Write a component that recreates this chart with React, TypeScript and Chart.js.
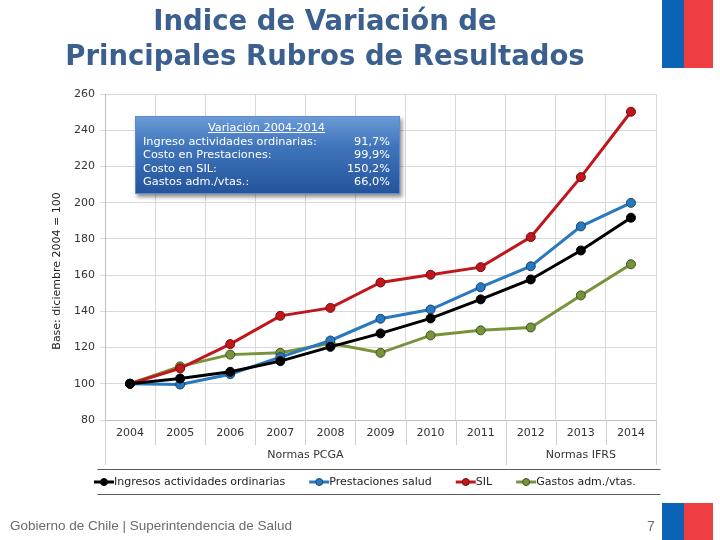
import { useEffect, useRef } from "react";
import { Chart, registerables } from "chart.js";

Chart.register(...registerables);

const years = ["2004", "2005", "2006", "2007", "2008", "2009", "2010", "2011", "2012", "2013", "2014"];
const groupLabels = ["Normas PCGA", "Normas IFRS"];
const groupSizes = [8, 3];

const ingresos = [100, 102.9, 106.6, 112.5, 120.4, 127.8, 136.1, 146.6, 157.6, 173.6, 191.7];
const prestaciones = [100, 99.6, 105.3, 114.7, 123.9, 135.9, 141.0, 153.3, 164.9, 186.9, 199.9];
const sil = [100, 108.5, 121.9, 137.5, 141.9, 155.9, 160.2, 164.4, 181.0, 214.1, 250.2];
const gastos = [100, 109.6, 116.1, 117.1, 122.3, 117.1, 126.7, 129.5, 131.1, 148.8, 166.0];

const seriesNames = ["Ingresos actividades ordinarias", "Prestaciones salud", "SIL", "Gastos adm./vtas."];
const seriesColors = ["#000000", "#2a78bd", "#c0171d", "#77933c"];
const seriesBorders = ["#000000", "#14456e", "#6e0b0e", "#3f5220"];

const yMin = 80;
const yMax = 260;
const yStep = 20;
const yTitle = "Base: diciembre 2004 = 100";

const titleLines = ["Indice de Variación de", "Principales Rubros de Resultados"];
const boxTitle = "Variación 2004-2014";
const boxLabels = ["Ingreso actividades ordinarias:", "Costo en Prestaciones:", "Costo en SIL:", "Gastos adm./vtas.:"];
const boxValues = ["91,7%", "99,9%", "150,2%", "66,0%"];
const footerText = "Gobierno de Chile | Superintendencia de Salud";
const pageNumber = "7";

const FONT = "'DejaVu Sans', Verdana, sans-serif";

const extrasPlugin = {
  id: "extras",
  afterDraw(chart: any) {
    const ctx = chart.ctx;
    const x = chart.scales.x;
    const area = chart.chartArea;
    const half = (x.getPixelForValue(1) - x.getPixelForValue(0)) / 2;
    const bottom = area.bottom;
    ctx.save();

    // y-axis title
    ctx.save();
    ctx.translate(57, (area.top + area.bottom) / 2 + 14);
    ctx.rotate(-Math.PI / 2);
    ctx.font = `11px ${FONT}`;
    ctx.fillStyle = "#222222";
    ctx.textAlign = "center";
    ctx.textBaseline = "middle";
    ctx.fillText(yTitle, 0, 0);
    ctx.restore();

    ctx.strokeStyle = "#cfcfcf";
    ctx.lineWidth = 1;
    const groupEdges: number[] = [0];
    let acc = 0;
    groupSizes.forEach((s) => {
      acc += s;
      groupEdges.push(acc);
    });
    for (let i = 0; i <= years.length; i++) {
      const px = Math.round(x.getPixelForValue(i) - half) + 0.5;
      const isGroup = groupEdges.includes(i);
      ctx.beginPath();
      ctx.moveTo(px, bottom);
      ctx.lineTo(px, bottom + (isGroup ? 45 : 25));
      ctx.stroke();
    }
    ctx.fillStyle = "#333333";
    ctx.font = `11px ${FONT}`;
    ctx.textAlign = "center";
    ctx.textBaseline = "middle";
    groupLabels.forEach((g, gi) => {
      const l = x.getPixelForValue(groupEdges[gi]) - half;
      const r = x.getPixelForValue(groupEdges[gi + 1]) - half;
      ctx.fillText(g, (l + r) / 2, bottom + 35);
    });

    // legend
    const lTop = bottom + 49.5;
    const lLeft = 97.5;
    const lRight = 660.5;
    const lH = 25;
    ctx.strokeStyle = "#5a5a5a";
    ctx.beginPath();
    ctx.moveTo(lLeft, lTop);
    ctx.lineTo(lRight, lTop);
    ctx.moveTo(lLeft, lTop + lH);
    ctx.lineTo(lRight, lTop + lH);
    ctx.stroke();
    ctx.font = `11px ${FONT}`;
    ctx.textAlign = "left";
    let cx = 94;
    const cy = lTop + lH / 2;
    chart.data.datasets.forEach((ds: any) => {
      ctx.strokeStyle = ds.borderColor;
      ctx.lineWidth = 3;
      ctx.beginPath();
      ctx.moveTo(cx, cy);
      ctx.lineTo(cx + 20, cy);
      ctx.stroke();
      ctx.beginPath();
      ctx.arc(cx + 10, cy, 3.5, 0, Math.PI * 2);
      ctx.fillStyle = ds.pointBackgroundColor;
      ctx.fill();
      ctx.lineWidth = 1;
      ctx.strokeStyle = ds.pointBorderColor;
      ctx.stroke();
      ctx.fillStyle = "#222222";
      ctx.fillText(ds.label, cx + 20, cy + 0.5);
      cx += 20 + ctx.measureText(ds.label).width + 24;
    });
    ctx.restore();
  },
};

export default function App() {
  const ref = useRef<HTMLCanvasElement | null>(null);

  useEffect(() => {
    if (!ref.current) return;
    const all = [ingresos, prestaciones, sil, gastos];
    const chart = new Chart(ref.current, {
      type: "line",
      data: {
        labels: years,
        datasets: all.map((d, i) => ({
          label: seriesNames[i],
          data: d,
          borderColor: seriesColors[i],
          backgroundColor: seriesColors[i],
          pointBackgroundColor: seriesColors[i],
          pointBorderColor: seriesBorders[i],
          pointBorderWidth: 1,
          pointRadius: 4.5,
          borderWidth: 3,
          tension: 0,
          fill: false,
        })),
      },
      options: {
        responsive: false,
        animation: false,
        devicePixelRatio: 1,
        layout: { padding: { left: 45, right: 64, top: 94, bottom: 70 } },
        plugins: {
          legend: { display: false },
          tooltip: { enabled: false },
          title: { display: false },
        },
        scales: {
          x: {
            type: "category",
            offset: true,
            afterFit: (s: any) => {
              s.height = 50;
            },
            grid: { offset: true, color: "#d9d9d9", drawTicks: false },
            border: { color: "#bfbfbf" },
            ticks: { padding: 7, color: "#333333", font: { family: FONT, size: 11 }, maxRotation: 0, autoSkip: false },
          },
          y: {
            min: yMin,
            max: yMax,
            afterFit: (s: any) => {
              s.width = 60;
            },
            ticks: { stepSize: yStep, padding: 5, color: "#333333", font: { family: FONT, size: 11 } },
            grid: { color: "#d9d9d9", tickLength: 5 },
            border: { color: "#bfbfbf" },
          },
        },
      },
      plugins: [extrasPlugin],
    });
    return () => chart.destroy();
  }, []);

  return (
    <div style={{ position: "absolute", left: 0, top: 0, width: 720, height: 540, background: "#ffffff", overflow: "hidden" }}>
      <canvas ref={ref} width={720} height={540} style={{ position: "absolute", left: 0, top: 0, width: 720, height: 540 }} />
      <div
        style={{
          position: "absolute",
          left: 0,
          width: 650,
          top: 3,
          textAlign: "center",
          fontFamily: FONT,
          fontWeight: "bold",
          fontSize: 27.5,
          lineHeight: "35px",
          color: "#3b6090",
          whiteSpace: "nowrap",
        }}
      >
        {titleLines.map((t) => (
          <div key={t}>{t}</div>
        ))}
      </div>
      <div style={{ position: "absolute", left: 662, top: 0, width: 22, height: 68, background: "#0a63b4" }} />
      <div style={{ position: "absolute", left: 684, top: 0, width: 29, height: 68, background: "#ee3e42" }} />
      <div style={{ position: "absolute", left: 662, top: 503, width: 22, height: 40, background: "#0a63b4" }} />
      <div style={{ position: "absolute", left: 684, top: 503, width: 29, height: 40, background: "#ee3e42" }} />
      <div
        style={{
          position: "absolute",
          left: 135,
          top: 116,
          width: 265,
          height: 78,
          boxSizing: "border-box",
          background: "linear-gradient(#6a9ad6 0%, #3f74bb 40%, #24549c 100%)",
          border: "1px solid #5d8ccc",
          boxShadow: "2px 3px 4px rgba(0,0,0,0.45)",
          color: "#ffffff",
          fontFamily: FONT,
          fontSize: 11.3,
          lineHeight: "13.6px",
          padding: "4px 9px 0 7px",
        }}
      >
        <div style={{ textAlign: "center", textDecoration: "underline" }}>{boxTitle}</div>
        {boxLabels.map((l, i) => (
          <div key={l} style={{ display: "flex", justifyContent: "space-between" }}>
            <span>{l}</span>
            <span>{boxValues[i]}</span>
          </div>
        ))}
      </div>
      <div
        style={{
          position: "absolute",
          left: 10,
          top: 518,
          fontFamily: "'Liberation Sans', Arial, sans-serif",
          fontSize: 13.5,
          color: "#6b6b6b",
        }}
      >
        {footerText}
      </div>
      <div
        style={{
          position: "absolute",
          left: 647,
          top: 518,
          fontFamily: "'Liberation Sans', Arial, sans-serif",
          fontSize: 14,
          color: "#6b6b6b",
        }}
      >
        {pageNumber}
      </div>
    </div>
  );
}
